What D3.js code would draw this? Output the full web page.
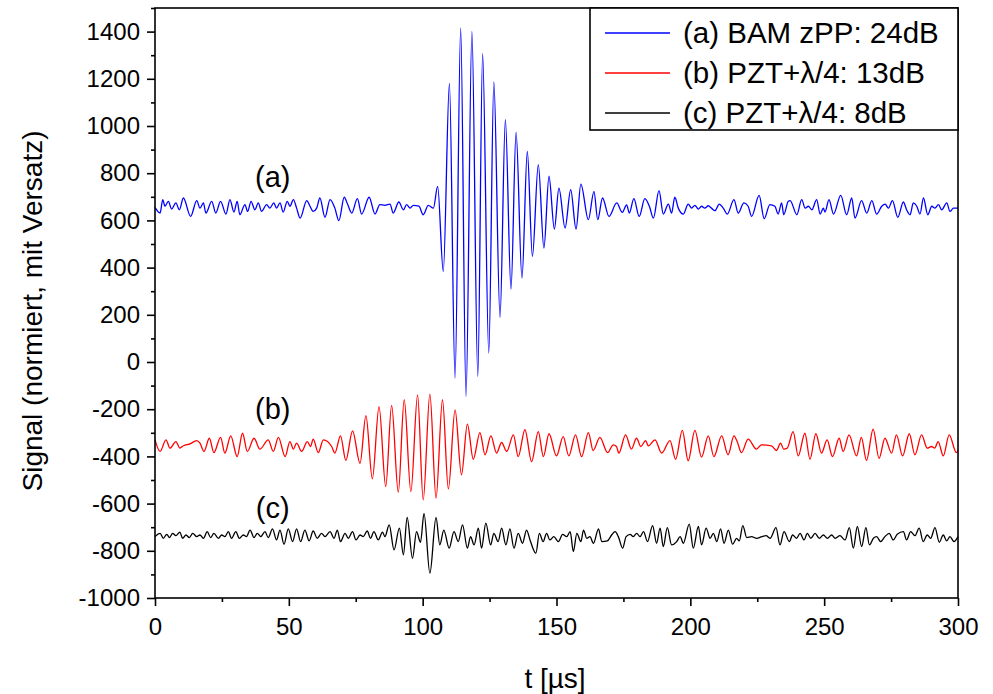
<!DOCTYPE html>
<html>
<head>
<meta charset="utf-8">
<script src="https://cdn.jsdelivr.net/npm/d3@7"></script>
<style>
body{margin:0;background:#fff}
text{font-family:"Liberation Sans",Arial,sans-serif;fill:#000}
</style>
</head>
<body>
<script>
// extrema: time in µs, signal (normalised, offset)
var tA = [0,1.9,2.9,3.7,5.0,6.2,7.8,9.1,10.6,13.3,15.6,16.8,18.1,19.0,21.2,22.7,24.5,26.5,28.0,29.5,30.7,31.7,33.6,34.6,35.9,37.3,38.6,39.8,41.7,42.9,44.4,45.4,46.7,47.9,49.4,50.4,51.7,52.9,
  54.2,56.7,57.9,59.1,60.4,61.6,63.5,65.4,67.2,68.7,70.7,72.0,73.5,75.6,77.2,80.0,82.2,84.0,85.9,87.8,89.0,91.1,92.8,94.0,95.3,96.5,98.6,100.2,102.1,104.0,
  105.6,107.7,110.0,112.1,114.2,116.2,118.4,120.6,122.4,124.7,126.6,128.9,130.9,133.0,134.9,137.1,139.1,141.0,143.2,145.3,147.2,149.2,150.9,153.2,155.3,157.3,159.1,161.9,164.0,165.4,167.2,169.6,172.5,174.6,
  176.2,177.2,178.9,180.9,183.0,184.7,186.2,188.3,189.9,191.8,193.0,194.2,195.5,197.4,199.2,200.5,201.7,203.0,204.2,205.4,206.7,207.9,209.2,210.8,212.3,213.8,216.3,217.9,220.0,221.6,222.9,225.7,227.6,229.7,231.6,232.8,234.1,234.9,236.6,
  237.3,239.8,241.6,242.9,244.1,245.4,247.2,248.5,249.7,250.3,251.8,253.5,256.2,258.4,260.3,261.5,264.0,265.9,267.8,269.6,271.5,272.8,274.0,275.5,277.5,279.6,280.8,282.1,283.3,284.6,285.8,287.1,288.7,290.2,291.4,292.7,293.9,295.8,297.0,298.3,300];
var vA = [655,631,688,660,681,648,674,645,695,617,684,652,674,631,681,631,681,627,688,635,681,624,667,638,681,645,674,638,667,652,674,652,674,635,681,660,688,652,
  610,684,660,638,652,695,613,688,652,599,698,667,631,692,627,698,627,667,664,669,631,678,645,667,652,664,660,624,664,652,
  744,384,1180,-68,1416,-146,1401,-61,1307,38,1187,189,1027,309,973,356,892,447,836,483,787,563,737,568,730,563,754,603,723,603,695,617,674,634,
  666,631,692,617,692,660,610,726,627,669,631,698,652,627,669,652,664,648,660,652,662,652,641,669,652,627,688,631,674,660,617,706,607,667,660,627,674,624,681,
  684,624,688,652,660,645,688,627,652,635,688,627,706,624,695,610,684,631,684,627,660,669,652,684,613,678,645,624,674,660,627,695,624,660,652,667,645,674,638,652,652];

var tB = [0,1.9,4.1,5.6,7.8,9.3,10.6,13.1,15.6,16.8,18.3,20.3,22.0,24.5,26.1,28.3,30.7,32.7,34.5,37.0,39.2,42.3,44.2,46.1,48.6,50.4,51.7,52.9,54.8,56.9,58.1,59.1,61.0,62.9,66.0,67.2,69.3,71.3,
  73.8,76.6,78.8,81.2,83.7,86.2,88.4,90.9,93.1,95.6,98.1,100.2,102.7,105.0,107.4,109.6,112.1,114.5,116.7,
  118.9,121.4,123.3,125.5,127.6,129.5,131.4,133.9,135.7,138.2,140.7,143.2,145.1,147.2,150.0,152.5,154.6,157.1,159.4,161.9,163.7,166.2,169.1,171.2,172.4,173.3,175.8,178.0,179.9,181.5,183.3,184.3,186.8,189.3,192.4,194.5,197.0,199.2,201.7,204.2,206.7,
  208.8,211.7,214.1,216.3,217.5,219.1,221.6,224.7,226.6,230.3,232.2,233.7,234.9,236.2,238.4,240.3,242.8,244.7,246.9,249.0,251.1,253.1,255.6,257.1,259.3,262.1,263.9,265.8,268.3,270.5,272.7,275.2,277.0,279.3,281.8,283.9,286.4,288.5,290.1,291.3,292.6,294.5,296.7,299.4,300];
var vB = [-330,-379,-330,-365,-337,-365,-355,-347,-333,-344,-379,-323,-384,-319,-386,-313,-401,-302,-379,-323,-369,-330,-379,-319,-401,-337,-369,-344,-379,-337,-358,-327,-384,-330,-358,-386,-313,-417,
  -292,-429,-227,-495,-189,-528,-184,-552,-160,-549,-139,-584,-136,-577,-160,-538,-203,-478,-263,
  -412,-299,-393,-313,-386,-341,-379,-309,-401,-287,-422,-295,-401,-304,-398,-316,-398,-309,-401,-299,-375,-319,-384,-351,-358,-386,-309,-369,-323,-358,-333,-355,-330,-386,-333,-412,-290,-418,-290,-403,-313,
  -401,-313,-393,-313,-337,-384,-327,-369,-351,-355,-375,-344,-369,-365,-295,-398,-302,-412,-304,-386,-330,-401,-323,-379,-309,-398,-319,-417,-285,-408,-323,-386,-309,-398,-304,-393,-309,-365,-358,-365,-337,-398,-309,-384,-375];

var tC = [0,1.9,3.1,4.4,5.4,6.6,7.8,9.3,10.3,11.6,12.8,14.1,15.6,16.8,18.1,19.5,20.8,22.0,23.7,24.9,26.1,27.4,28.6,30.2,31.5,33.0,34.2,35.5,37.0,38.2,39.5,41.1,42.3,43.9,45.4,46.7,48.2,49.8,51.4,52.9,54.4,56.0,57.6,59.1,60.6,62.2,63.5,65.4,66.9,68.1,69.3,71.0,72.2,73.8,75.1,76.6,77.8,79.3,80.5,81.8,83.4,85.0,85.9,
  87.5,89.3,91.3,92.8,94.2,96.2,97.7,99.2,100.5,102.7,105.0,106.4,107.9,109.9,111.7,113.3,114.9,116.7,117.9,119.2,120.8,122.0,123.6,125.4,126.6,128.2,129.5,131.1,132.6,134.1,135.7,137.3,138.8,140.3,142.3,143.6,145.0,146.3,147.5,149.0,
  150.7,152.3,153.8,155.1,156.3,157.6,159.1,160.1,161.3,162.5,163.8,165.7,166.9,169.0,170.6,171.9,173.1,174.7,176.0,177.5,178.7,180.0,181.2,182.5,184.0,185.9,187.4,188.7,189.9,191.4,193.0,194.9,196.2,197.4,199.6,201.1,203.0,204.2,205.9,207.4,208.6,209.9,211.3,212.6,214.2,215.8,217.3,218.3,219.6,221.1,222.9,224.8,226.7,228.3,229.8,
  232.0,233.5,235.0,237.0,238.2,239.7,241.0,242.5,243.7,245.0,246.6,248.2,249.7,251.2,252.8,254.1,255.9,257.8,259.4,260.9,262.4,264.0,265.6,266.9,268.4,269.6,271.1,272.7,274.3,275.8,277.3,279.6,280.8,282.3,283.9,285.5,287.0,288.5,289.8,291.4,293.0,294.5,295.8,297.0,298.5,300];
var vC = [-740,-726,-747,-730,-744,-726,-736,-721,-747,-733,-744,-726,-740,-733,-747,-719,-744,-726,-747,-733,-740,-719,-747,-719,-747,-733,-740,-712,-744,-726,-740,-719,-744,-707,-754,-712,-772,-707,-761,-707,-761,-712,-758,-716,-747,-726,-740,-719,-747,-712,-761,-726,-747,-719,-754,-733,-740,-716,-747,-719,-754,-721,-740,
  -690,-796,-704,-817,-659,-832,-719,-764,-641,-895,-659,-775,-712,-789,-719,-761,-690,-789,-740,-775,-704,-789,-683,-775,-726,-761,-704,-775,-707,-789,-726,-768,-712,-761,-810,-726,-761,-726,-754,-740,
  -761,-730,-740,-719,-803,-726,-761,-712,-747,-740,-768,-707,-761,-758,-733,-719,-740,-789,-740,-730,-740,-726,-740,-719,-761,-693,-768,-704,-782,-702,-775,-761,-740,-768,-687,-789,-697,-775,-704,-747,-726,-761,-707,-768,-712,-772,-747,-758,-693,-744,-740,-747,-740,-736,-747,
  -702,-775,-719,-761,-733,-747,-726,-754,-726,-747,-726,-747,-733,-747,-733,-747,-736,-754,-702,-789,-697,-782,-702,-775,-747,-740,-761,-740,-726,-754,-730,-719,-754,-719,-736,-704,-761,-733,-747,-702,-764,-733,-758,-740,-761,-740];

var seriesNames = ["(a) BAM zPP: 24dB", "(b) PZT+\u03bb/4: 13dB", "(c) PZT+\u03bb/4: 8dB"];
var seriesColors = ["#0000ff", "#ff0000", "#000000"];
var tags = ["(a)", "(b)", "(c)"];
var tagPos = [[44, 740], [44, -240], [44, -660]];
var xTicks = [0, 50, 100, 150, 200, 250, 300];
var yTicks = [-1000, -800, -600, -400, -200, 0, 200, 400, 600, 800, 1000, 1200, 1400];

var svg = d3.select("body").append("svg").attr("width", 993).attr("height", 694);

var x = d3.scaleLinear().domain([0, 300]).range([155, 958]);
var y = d3.scaleLinear().domain([-1000, 1500]).range([598, 8]);

var all = [[tA, vA], [tB, vB], [tC, vC]];
var line = d3.line().x(function(d) {return x(d[0])}).y(function(d) {return y(d[1])}).curve(d3.curveMonotoneX);

svg.selectAll("path.sig")
  .data(all).enter()
  .append("path")
  .attr("class", "sig")
  .attr("d", function(s) {return line(s[0].map(function(t, k) {return [t, s[1][k]]}))})
  .attr("fill", "none")
  .attr("stroke", function(s, i) {return seriesColors[i]})
  .attr("stroke-width", 1.3);

// frame
svg.append("rect").attr("x", 155).attr("y", 8).attr("width", 803).attr("height", 590)
  .attr("fill", "none").attr("stroke", "#000").attr("stroke-width", 1.6);

// axes
svg.append("g").attr("transform", "translate(155,0)")
  .call(d3.axisLeft(y).tickValues(yTicks).tickSize(8).tickPadding(7).tickFormat(function(d) {return String(d)}));
svg.append("g").attr("transform", "translate(155,0)")
  .call(d3.axisLeft(y).tickValues(yTicks.map(function(d) {return d + 100})).tickSize(4).tickFormat(""));
svg.append("g").attr("transform", "translate(0,598)")
  .call(d3.axisBottom(x).tickValues(xTicks).tickSize(8).tickPadding(12).tickFormat(function(d) {return String(d)}));
svg.append("g").attr("transform", "translate(0,598)")
  .call(d3.axisBottom(x).tickValues(xTicks.slice(0, -1).map(function(d) {return d + 25})).tickSize(4).tickFormat(""));
svg.selectAll(".domain").remove();
svg.selectAll(".tick line").attr("stroke", "#000").attr("stroke-width", 1.6);
svg.selectAll(".tick text").attr("font-size", 24).attr("font-family", "Liberation Sans, Arial, sans-serif");

// axis titles
svg.append("text").attr("x", 555).attr("y", 688).attr("text-anchor", "middle").attr("font-size", 28).text("t [\u00b5s]");
svg.append("text").attr("transform", "translate(42,311) rotate(-90)").attr("text-anchor", "middle").attr("font-size", 28).text("Signal (normiert, mit Versatz)");

// labels on the traces
svg.selectAll("text.tag")
  .data(tags).enter()
  .append("text")
  .attr("class", "tag")
  .attr("x", function(d, i) {return x(tagPos[i][0])})
  .attr("y", function(d, i) {return y(tagPos[i][1])})
  .attr("text-anchor", "middle")
  .attr("font-size", 29)
  .text(function(d) {return d});

// legend
var lg = svg.append("g");
lg.append("rect").attr("x", 590).attr("y", 8).attr("width", 368).attr("height", 122)
  .attr("fill", "#fff").attr("stroke", "#000").attr("stroke-width", 1.6);
seriesNames.forEach(function(n, i) {
  var yy = 33 + i * 40;
  lg.append("line").attr("x1", 605).attr("x2", 670).attr("y1", yy).attr("y2", yy)
    .attr("stroke", seriesColors[i]).attr("stroke-width", 1.3);
  lg.append("text").attr("x", 683).attr("y", yy + 10).attr("font-size", 29.5).text(n);
});
</script>
</body>
</html>
